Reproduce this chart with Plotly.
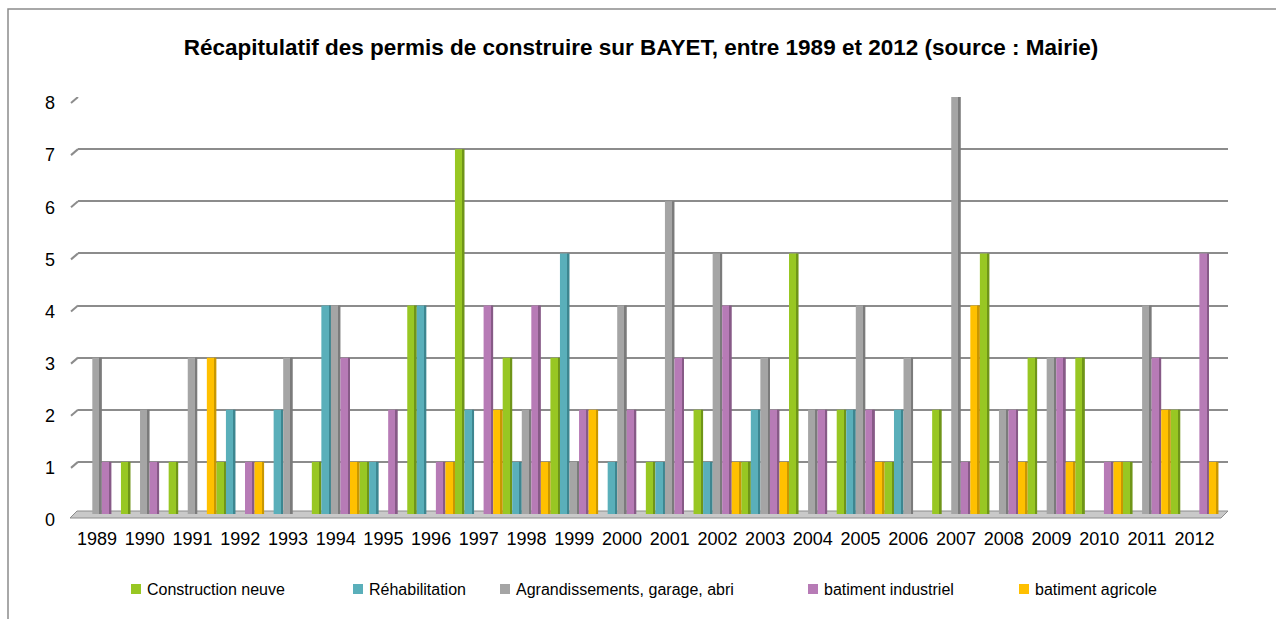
import plotly.graph_objects as go

# Building permits per year in Bayet, by type of works
years = ["1989", "1990", "1991", "1992", "1993", "1994", "1995", "1996",
         "1997", "1998", "1999", "2000", "2001", "2002", "2003", "2004",
         "2005", "2006", "2007", "2008", "2009", "2010", "2011", "2012"]

construction_neuve = [0, 1, 1, 1, 0, 1, 1, 4, 7, 3, 3, 0, 1, 2, 1, 5, 2, 1, 2, 5, 3, 3, 1, 2]
rehabilitation = [0, 0, 0, 2, 2, 4, 1, 4, 2, 1, 5, 1, 1, 1, 2, 0, 2, 2, 0, 0, 0, 0, 0, 0]
agrandissements = [3, 2, 3, 0, 3, 4, 0, 0, 0, 2, 1, 4, 6, 5, 3, 2, 4, 3, 8, 2, 3, 0, 4, 0]
batiment_industriel = [1, 1, 0, 1, 0, 3, 2, 1, 4, 4, 2, 2, 3, 4, 2, 2, 2, 0, 1, 2, 3, 1, 3, 5]
batiment_agricole = [0, 0, 3, 1, 0, 1, 0, 1, 2, 1, 2, 0, 0, 1, 1, 0, 1, 0, 4, 1, 1, 1, 2, 1]

series_names = ["Construction neuve", "Réhabilitation", "Agrandissements, garage, abri",
                "batiment industriel", "batiment agricole"]
series_values = [construction_neuve, rehabilitation, agrandissements,
                 batiment_industriel, batiment_agricole]
face_colors = ["#98C723", "#5AAFBA", "#A5A5A5", "#B77BB6", "#FFC000"]
side_colors = ["#6F9518", "#3D8690", "#7B7B7B", "#875A87", "#C99700"]

y_ticks = [0, 1, 2, 3, 4, 5, 6, 7, 8]

W, H = 1276, 619
L, R, T, B = 78, 1228, 97, 514          # plot area in pixels
FONT = "Liberation Sans, Arial, sans-serif"


def px_x(px):
    return (px - L) / (R - L)


def px_y(py):
    return (B - py) / (B - T)


x_pos = list(range(len(years)))
slot = 0.2
face_w = 0.16

fig = go.Figure()
for i, (name, vals) in enumerate(zip(series_names, series_values)):
    base_off = -0.5 + slot * i
    # front face of each column
    fig.add_trace(go.Bar(
        x=x_pos, y=vals, name=name, width=face_w, offset=base_off,
        marker=dict(color=face_colors[i], line=dict(width=0)),
        showlegend=False))
    # darker side face giving the columns some depth
    fig.add_trace(go.Bar(
        x=x_pos, y=vals, name=name, width=slot - face_w, offset=base_off + face_w,
        marker=dict(color=side_colors[i], line=dict(width=0)),
        showlegend=False, hoverinfo="skip"))

shapes = []
# chart frame
shapes.append(dict(type="rect", xref="paper", yref="paper",
                   x0=px_x(8), y0=px_y(660), x1=px_x(1300), y1=px_y(9),
                   line=dict(color="#8C8C8C", width=1.5), fillcolor="rgba(0,0,0,0)",
                   layer="below"))
# slanted ends of the back-wall gridlines
unit = (B - T) / 8.0
for v in y_ticks[1:]:
    shapes.append(dict(type="line", xref="paper", yref="y",
                       x0=px_x(71), y0=v - 6 / unit, x1=0, y1=v,
                       line=dict(color="#8C8C8C", width=2), layer="below"))
# floor slab
fx = [px_x(70), px_x(77), px_x(1228), px_x(1221)]
fy = [px_y(518), px_y(511), px_y(511), px_y(518)]
path = "M {} {} L {} {} L {} {} L {} {} Z".format(fx[0], fy[0], fx[1], fy[1],
                                                 fx[2], fy[2], fx[3], fy[3])
shapes.append(dict(type="path", xref="paper", yref="paper", path=path,
                   fillcolor="#C9C9C9", line=dict(color="#8C8C8C", width=1),
                   layer="below"))

# legend: colour squares and labels
legend_text_x = [145, 367, 514, 822, 1033]
annotations = []
for i, name in enumerate(series_names):
    tx = legend_text_x[i]
    shapes.append(dict(type="rect", xref="paper", yref="paper",
                       x0=px_x(tx - 14), x1=px_x(tx - 4), y0=px_y(594), y1=px_y(584),
                       fillcolor=face_colors[i], line=dict(width=0)))
    annotations.append(dict(xref="paper", yref="paper", x=px_x(tx), y=px_y(589),
                            xanchor="left", yanchor="middle", showarrow=False,
                            text=name, font=dict(family=FONT, size=16, color="#000000")))

fig.update_layout(
    width=W, height=H,
    margin=dict(l=L, r=W - R, t=T, b=H - B, pad=0),
    paper_bgcolor="white", plot_bgcolor="white",
    barmode="overlay",
    showlegend=False,
    title=dict(text="<b>Récapitulatif des permis de construire sur BAYET, entre 1989 et 2012 (source : Mairie)</b>",
               x=641 / W, xanchor="center", y=1 - 47 / H, yanchor="middle",
               font=dict(family=FONT, size=22.5, color="#000000")),
    font=dict(family=FONT, size=18, color="#000000"),
    shapes=shapes,
    annotations=annotations,
    xaxis=dict(range=[-0.4, 23.7], tickmode="array", tickvals=x_pos, ticktext=years,
               showgrid=False, zeroline=False, showline=False, ticks="",
               ticklabelstandoff=12, tickfont=dict(family=FONT, size=18, color="#000000"),
               fixedrange=True),
    yaxis=dict(range=[0, 8], tickmode="array", tickvals=y_ticks,
               showgrid=True, gridcolor="#8C8C8C", gridwidth=2,
               zeroline=False, showline=False, ticks="",
               ticklabelstandoff=22, ticklabelshift=6,
               tickfont=dict(family=FONT, size=18, color="#000000"),
               fixedrange=True),
)

fig.write_html("out.html")
